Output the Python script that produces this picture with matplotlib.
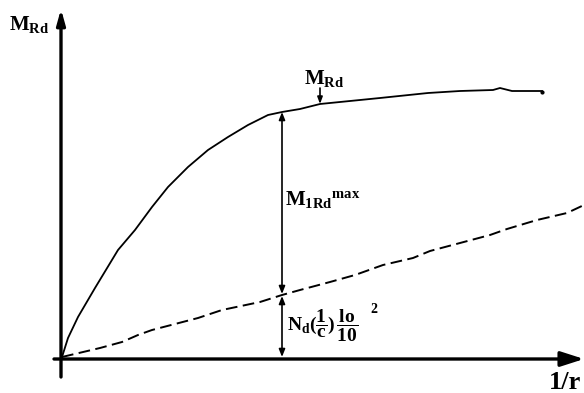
import matplotlib.pyplot as plt

plt.rcParams['mathtext.fontset'] = 'custom'
plt.rcParams['mathtext.rm'] = 'Liberation Serif'
plt.rcParams['mathtext.bf'] = 'Liberation Serif:bold'
plt.rcParams['mathtext.it'] = 'Liberation Serif:italic'

# resistance curve M_Rd(1/r) (origin at axis crossing)
curve_x = [0, 6, 16, 33, 56, 73, 90, 106, 126, 146, 166, 186, 206, 220,
           238, 258, 288, 318, 366, 398, 431, 438, 450, 480]
curve_y = [0, 19, 40, 69, 107, 127, 150, 170, 190, 207, 220, 232, 242, 245,
           248, 253, 256, 259, 264, 266, 267, 269, 266, 266]

# second order moment N_d (1/r) lo^2/10 (dashed)
dash_x = [0, 38, 60, 76, 90, 136, 160, 198, 220, 238, 268, 293, 321, 351,
          368, 398, 428, 445, 475, 505, 522]
dash_y = [0, 9, 15, 22, 27, 39, 47, 55, 62, 67, 75, 82, 92, 99,
          106, 114, 122, 128, 137, 144, 152]

x_max = 220  # position of the max first order moment

fig = plt.figure(figsize=(5.84, 3.93), dpi=100)
ax = fig.add_axes([0, 0, 1, 1])
ax.set_xlim(-62, 522)
ax.set_ylim(-36, 357)
ax.axis('off')

bold = dict(family='Liberation Serif', fontweight='bold', color='black')

# axes with arrows
ax.annotate('', xy=(522, -2), xytext=(-8, -2),
            arrowprops=dict(arrowstyle='-|>,head_length=1.4,head_width=0.45',
                            lw=2.4, color='black', shrinkA=0, shrinkB=0))
ax.annotate('', xy=(-1, 348), xytext=(-1, -20),
            arrowprops=dict(arrowstyle='-|>,head_length=0.9,head_width=0.25',
                            lw=2.4, color='black', shrinkA=0, shrinkB=0))

# curves
ax.plot(curve_x, curve_y, color='black', lw=1.3)
ax.plot(curve_x[-1], curve_y[-1] - 1, 'ko', ms=2)
ax.plot(dash_x, dash_y, color='black', lw=1.4, linestyle=(0, (6, 2.8)))

# dimension lines at the maximum
i_top = curve_x.index(x_max)
i_mid = dash_x.index(x_max)
dim = dict(arrowstyle='<|-|>,head_length=0.45,head_width=0.18',
           lw=1.2, color='black', shrinkA=0, shrinkB=0)
ax.annotate('', xy=(x_max, curve_y[i_top]), xytext=(x_max, dash_y[i_mid] + 1),
            arrowprops=dim)
ax.annotate('', xy=(x_max, dash_y[i_mid] - 1), xytext=(x_max, 0),
            arrowprops=dim)

# pointer to M_Rd on the curve
i_rd = curve_x.index(258)
ax.annotate('', xy=(258, curve_y[i_rd]), xytext=(258, curve_y[i_rd] + 16),
            arrowprops=dict(arrowstyle='-|>,head_length=0.4,head_width=0.15',
                            lw=1.2, color='black', shrinkA=0, shrinkB=0))

# labels
ax.text(-53, 327, r'$\mathbf{M_{Rd}}$', fontsize=15, va='baseline', **bold)
ax.text(242, 273, r'$\mathbf{M_{Rd}}$', fontsize=15, va='baseline', **bold)
ax.text(223, 152, r'$\mathbf{M_{1Rd}{}^{max}}$', fontsize=15, va='baseline', **bold)
ax.text(225, 25, r'$\mathbf{N_d(\dfrac{1}{c})\,\dfrac{lo}{10}}$', fontsize=14,
        va='baseline', **bold)
ax.text(308, 44, '2', fontsize=10, va='baseline', **bold)
ax.text(487, -32, '1/r', fontsize=19, va='baseline', **bold)

fig.savefig('out.png', dpi=100)
